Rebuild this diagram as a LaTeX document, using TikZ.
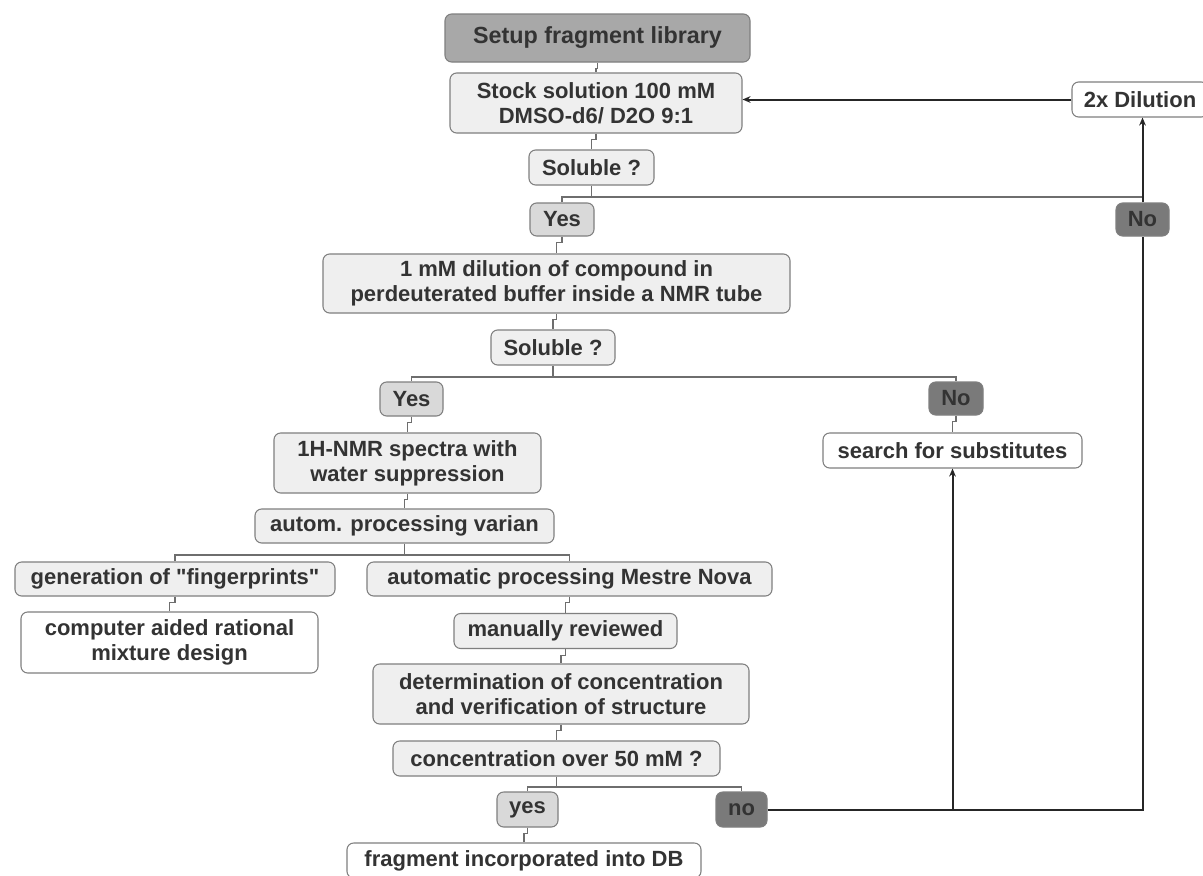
\documentclass[tikz,border=0pt]{standalone}
\usepackage{fontspec}
\setmainfont{Liberation Sans}[Ligatures=TeXOff]
\usetikzlibrary{arrows.meta}
\definecolor{txt}{HTML}{333333}
\definecolor{bordc}{HTML}{7F7F7F}
\definecolor{lgray}{HTML}{EFEFEF}
\definecolor{mgray}{HTML}{D9D9D9}
\definecolor{sgray}{HTML}{A8A8A8}
\definecolor{dgray}{HTML}{7A7A7A}
\definecolor{linec}{HTML}{6E6E6E}
\newcommand\tjog[2]{\draw[link] (#1.south) -- ++(0,6) -| (#2.north);}
\newcommand\tbranch[4]{%
  \draw[link] (#1.south) -- (#1.south |- 0,#2);
  \draw[link] (#3.north) -- (#3.north |- 0,#2) -- (#4.north |- 0,#2) -- (#4.north);}
\begin{document}
\begin{tikzpicture}[x=0.75pt,y=-0.75pt,
  box/.style={draw=bordc, line width=0.8pt, rounded corners=5pt, inner sep=0pt,
    align=center, font=\fontsize{16.5}{18.75}\selectfont\bfseries, text=txt},
  sz/.style 2 args={minimum width=#1*0.75pt, minimum height=#2*0.75pt},
  lgt/.style={box, fill=lgray},
  mid/.style={box, fill=mgray},
  drk/.style={box, fill=dgray},
  wht/.style={box, fill=white},
  link/.style={draw=linec, line width=0.8pt},
  flow/.style={draw=black!85, line width=1.5pt},
  arr/.style={flow, -{Stealth[length=6pt,width=5pt]}}]
\useasboundingbox[fill=white] (0,0) rectangle (1203,875);
\begin{scope}
\clip (0,0) rectangle (1203,875);
% nodes
\node[box, fill=sgray, sz={305}{48}, font=\fontsize{17.5}{20}\selectfont\bfseries] (setup) at (597.5,38) {Setup fragment library};
\node[lgt, sz={292}{60}] (stock) at (596,103) {Stock solution 100 mM\\DMSO-d6/ D2O 9:1};
\node[lgt, sz={125}{35}] (sol1) at (591.5,167.5) {Soluble ?};
\node[mid, sz={64}{33}] (yes1) at (562,219.5) {Yes};
\node[drk, sz={53}{33}] (no1) at (1142.5,219.5) {No};
\node[wht, sz={136}{35}] (dil) at (1140,99.5) {2x Dilution};
\node[lgt, sz={467}{59}] (mm) at (556.5,283.5) {1 mM dilution of compound in\\perdeuterated buffer inside a NMR tube};
\node[lgt, sz={124}{35}] (sol2) at (553,347.5) {Soluble ?};
\node[mid, sz={63}{34}] (yes2) at (411.5,399) {Yes};
\node[drk, sz={54}{33}] (no2) at (956,398.5) {No};
\node[wht, sz={259}{35}] (search) at (952.5,450.5) {search for substitutes};
\node[lgt, sz={267}{60}] (nmr) at (407.5,463) {1H-NMR spectra with\\water suppression};
\node[lgt, sz={299}{34}] (varian) at (404.5,526) {autom. processing varian};
\node[lgt, sz={320}{34}] (gen) at (175,579) {generation of "fingerprints"};
\node[lgt, sz={405}{34}] (auto) at (569.5,579) {automatic processing Mestre Nova};
\node[wht, sz={297}{61}] (cad) at (169.5,642.5) {computer aided rational\\mixture design};
\node[lgt, sz={223}{35}] (man) at (565.5,631) {manually reviewed};
\node[lgt, sz={376}{60}] (det) at (561,694) {determination of concentration\\and verification of structure};
\node[lgt, sz={327}{35}] (conc) at (556.5,758.5) {concentration over 50 mM ?};
\node[mid, sz={61}{35}] (yes3) at (527.5,809.5) {yes};
\node[drk, sz={51}{35}] (no3) at (741.5,809.5) {no};
\node[wht, sz={354}{35}] (frag) at (524,860.5) {fragment incorporated into DB};
% tree links
\tjog{setup}{stock}
\tjog{stock}{sol1}
\tbranch{sol1}{197}{yes1}{no1}
\tjog{yes1}{mm}
\tjog{mm}{sol2}
\tbranch{sol2}{377}{yes2}{no2}
\tjog{yes2}{nmr}
\tjog{no2}{search}
\tjog{nmr}{varian}
\tbranch{varian}{555}{gen}{auto}
\tjog{gen}{cad}
\tjog{auto}{man}
\tjog{man}{det}
\tjog{det}{conc}
\tbranch{conc}{787}{yes3}{no3}
\tjog{yes3}{frag}
% flow arrows
\coordinate (j) at (search.south |- no3.east);
\draw[flow] (no3.east) -| (no1.south);
\draw[arr] (j) -- (search.south);
\draw[arr] (no1.north) -- (no1.north |- dil.south);
\draw[arr] (dil.west) -- (dil.west -| stock.east);
\end{scope}
\end{tikzpicture}
\end{document}
